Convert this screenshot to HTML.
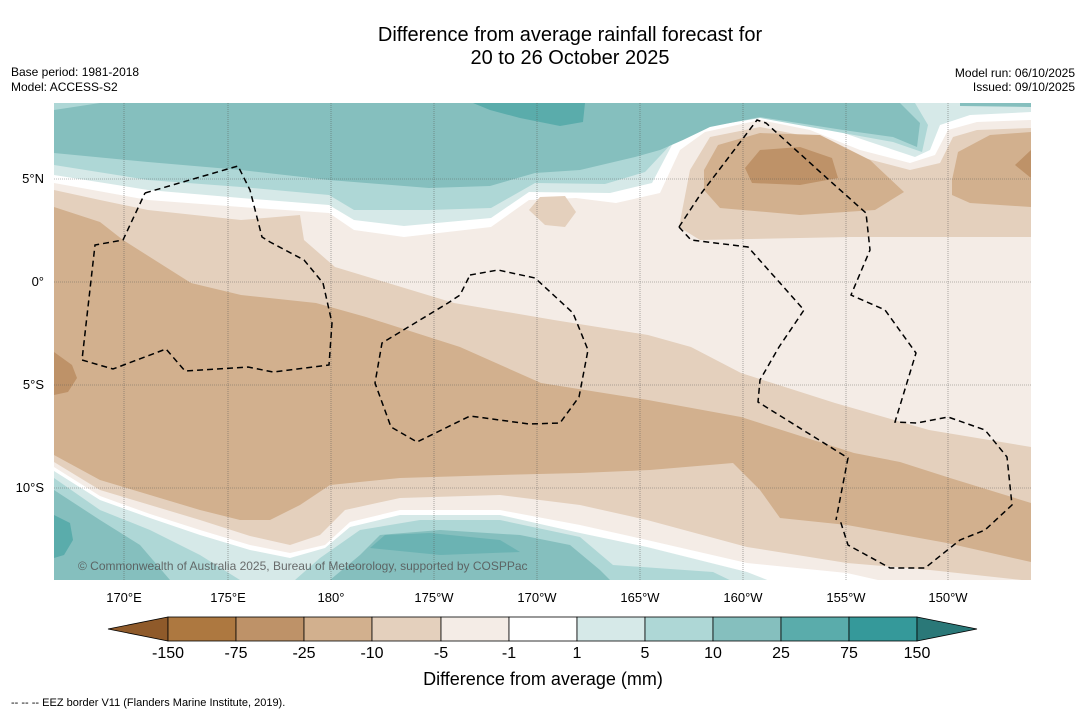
<!DOCTYPE html>
<html><head><meta charset="utf-8"><style>
body{margin:0;background:#fff;width:1085px;height:713px;overflow:hidden;font-family:"Liberation Sans","DejaVu Sans",sans-serif}
svg{position:absolute;left:0;top:0}
</style></head><body>
<svg width="1085" height="713" viewBox="0 0 1085 713">
<defs><clipPath id="mc"><rect x="54" y="103" width="977" height="477"/></clipPath></defs>
<text x="570" y="41" font-size="20" text-anchor="middle">Difference from average rainfall forecast for</text>
<text x="570" y="64" font-size="20" text-anchor="middle">20 to 26 October 2025</text>
<text x="11" y="76" font-size="12">Base period: 1981-2018</text>
<text x="11" y="91" font-size="12">Model: ACCESS-S2</text>
<text x="1075" y="77" font-size="12" text-anchor="end">Model run: 06/10/2025</text>
<text x="1075" y="91" font-size="12" text-anchor="end">Issued: 09/10/2025</text>

<g clip-path="url(#mc)">
<rect x="54" y="103" width="977" height="477" fill="#f4ece6"/>
<!-- top teal layers -->
<path d="M54,103H1031V120L977,122L948,130L935,155L910,163L860,150L810,130L760,120L705,132L680,150L660,193L616,203L576,198L529,200L491,227L404,237L354,230L329,213L241,207L148,200L54,183Z" fill="#ffffff"/>
<path d="M54,103H1031V112L970,115L940,125L930,150L915,157L870,142L820,125L760,115L700,124L672,145L652,183L610,193L529,192L491,218L404,226L354,220L329,205L241,198L148,190L54,175Z" fill="#d6e9e8"/>
<path d="M54,103H915L928,125L922,152L893,142L843,133L760,118L705,127L675,140L645,172L605,184L535,183L491,208L429,210L354,210L329,195L241,187L148,180L54,165Z" fill="#aed7d6"/>
<path d="M54,110L100,103H900L920,123L917,147L893,137L843,130L760,117L710,127L683,140L660,150L635,157L580,170L535,173L490,186L429,188L329,180L241,170L148,162L54,153Z" fill="#85bfbe"/>
<path d="M960,103H1031V107L960,106Z" fill="#85bfbe"/>
<path d="M473,103H585L583,122L560,126L520,118L490,110Z" fill="#5aacab"/>
<!-- top-right brown -->
<path d="M679,227L690,170L710,137L760,127L810,137L860,157L910,170L940,163L953,137L977,130L1031,128V237L850,237L700,240Z" fill="#e4d0bd"/>
<path d="M704,170L718,145L760,133L820,135L870,160L904,192L875,210L800,215L720,208L704,190Z" fill="#d2b08e"/>
<path d="M952,180L958,152L990,135L1031,132V207L970,203L952,195Z" fill="#d2b08e"/>
<path d="M745,168L760,150L800,147L832,158L838,178L800,185L752,183Z" fill="#be9268"/>
<path d="M1015,165L1031,150V178Z" fill="#be9268"/>
<path d="M529,210L540,197L565,196L576,212L565,227L545,225Z" fill="#e4d0bd"/>
<!-- main diagonal band -->
<path d="M54,190L100,200L148,210L241,220L300,215L304,240L335,267L454,303L554,320L648,335L691,347L741,373L835,403L929,430L1031,447V580H54Z" fill="#e4d0bd"/>
<path d="M54,207L100,222L123,240L191,283L241,295L316,303L366,317L460,347L541,383L648,400L741,417L854,453L900,462L950,478L1031,503V580H54Z" fill="#d2b08e"/>
<path d="M54,352L72,365L77,378L68,392L54,395Z" fill="#be9268"/>
<!-- bottom layers -->
<path d="M54,455L100,480L150,495L200,510L240,520L270,520L300,505L330,485L400,478L500,475L580,473L650,470L733,463L760,490L780,518L847,525L947,543L1031,562V580H54Z" fill="#e4d0bd"/>
<path d="M54,462L100,490L150,505L200,520L250,536L290,545L320,535L345,510L400,498L500,495L580,505L647,520L747,547L847,563L930,570L1031,581V590H54Z" fill="#f4ece6"/>
<path d="M54,467L100,496L150,514L200,530L250,545L290,553L325,545L350,522L400,510L500,510L580,525L647,540L747,563L847,573L900,585H54Z" fill="#ffffff"/>
<path d="M54,471L100,500L150,518L200,535L250,550L290,558L325,548L350,527L400,515L500,515L580,533L647,547L747,572L780,585H54Z" fill="#d6e9e8"/>
<path d="M54,478L100,510L150,530L200,555L240,580H54Z" fill="#aed7d6"/>
<path d="M295,580L320,558L360,530L420,520L500,520L580,537L613,565L713,572L740,585Z" fill="#aed7d6"/>
<path d="M54,490L100,520L140,545L170,580H54Z" fill="#85bfbe"/>
<path d="M330,580L360,555L380,535L440,530L520,535L570,545L600,570L610,580Z" fill="#85bfbe"/>
<path d="M370,548L385,535L430,533L500,540L520,552L440,555Z" fill="#5aacab" opacity="0.6"/>
<path d="M54,515L70,523L73,540L64,555L54,558Z" fill="#5aacab"/>
<!-- grid -->
<g stroke="#555" stroke-width="0.6" stroke-dasharray="1,1" opacity="0.8">
<line x1="124" y1="103" x2="124" y2="580"/><line x1="228" y1="103" x2="228" y2="580"/><line x1="331" y1="103" x2="331" y2="580"/><line x1="434" y1="103" x2="434" y2="580"/><line x1="537" y1="103" x2="537" y2="580"/><line x1="640" y1="103" x2="640" y2="580"/><line x1="743" y1="103" x2="743" y2="580"/><line x1="846" y1="103" x2="846" y2="580"/><line x1="948" y1="103" x2="948" y2="580"/>
<line x1="54" y1="179" x2="1031" y2="179"/><line x1="54" y1="282" x2="1031" y2="282"/><line x1="54" y1="385" x2="1031" y2="385"/><line x1="54" y1="488" x2="1031" y2="488"/>
</g>
<!-- EEZ -->
<g fill="none" stroke="#000" stroke-width="1.5" stroke-dasharray="6,4">
<path d="M145,193L238,166L250,190L262,237L270,242L304,260L323,283L332,323L329,365L273,372L248,367L185,371L166,349L113,369L82,360L95,245L123,240L145,193"/>
<path d="M470,275L498,270L535,278L573,313L588,350L579,397L560,423L529,424L470,416L417,442L391,427L375,383L382,343L448,303L460,295Z"/>
<path d="M679,227L691,240L748,247L804,310L779,347L760,380L758,402L848,458L836,520"/>
<path d="M679,227L700,195L757,120L766,123L829,180L866,213L870,250L851,295L885,310L916,353L895,422L917,423L948,417L985,430L1007,457L1012,505L985,530L960,540L925,568L890,568L848,545L840,520"/>
</g>
<text x="78" y="570" font-size="12" fill="#555" opacity="0.85">© Commonwealth of Australia 2025, Bureau of Meteorology, supported by COSPPac</text>
</g>

<g font-size="13" text-anchor="middle">
<text x="124" y="602">170°E</text><text x="228" y="602">175°E</text><text x="331" y="602">180°</text><text x="434" y="602">175°W</text><text x="537" y="602">170°W</text><text x="640" y="602">165°W</text><text x="743" y="602">160°W</text><text x="846" y="602">155°W</text><text x="948" y="602">150°W</text>
</g>
<g font-size="13" text-anchor="end">
<text x="44" y="183">5°N</text><text x="44" y="286">0°</text><text x="44" y="389">5°S</text><text x="44" y="492">10°S</text>
</g>

<g stroke="#000" stroke-width="0.8">
<polygon points="108,629 168,617 168,641" fill="#8f5a2a"/>
<rect x="168" y="617" width="68" height="24" fill="#ad7840"/>
<rect x="236" y="617" width="68" height="24" fill="#be9268"/>
<rect x="304" y="617" width="68" height="24" fill="#d2b08e"/>
<rect x="372" y="617" width="69" height="24" fill="#e4d0bd"/>
<rect x="441" y="617" width="68" height="24" fill="#f4ece6"/>
<rect x="509" y="617" width="68" height="24" fill="#ffffff"/>
<rect x="577" y="617" width="68" height="24" fill="#d6e9e8"/>
<rect x="645" y="617" width="68" height="24" fill="#aed7d6"/>
<rect x="713" y="617" width="68" height="24" fill="#85bfbe"/>
<rect x="781" y="617" width="68" height="24" fill="#5aacab"/>
<rect x="849" y="617" width="68" height="24" fill="#35999a"/>
<polygon points="917,617 977,629 917,641" fill="#2a7878"/>
</g>
<g font-size="16" text-anchor="middle">
<text x="168" y="658">-150</text><text x="236" y="658">-75</text><text x="304" y="658">-25</text><text x="372" y="658">-10</text><text x="441" y="658">-5</text><text x="509" y="658">-1</text><text x="577" y="658">1</text><text x="645" y="658">5</text><text x="713" y="658">10</text><text x="781" y="658">25</text><text x="849" y="658">75</text><text x="917" y="658">150</text>
</g>
<text x="543" y="685" font-size="18" text-anchor="middle">Difference from average (mm)</text>
<text x="11" y="706" font-size="11">--  --  -- EEZ border V11 (Flanders Marine Institute, 2019).</text>
</svg>
</body></html>
